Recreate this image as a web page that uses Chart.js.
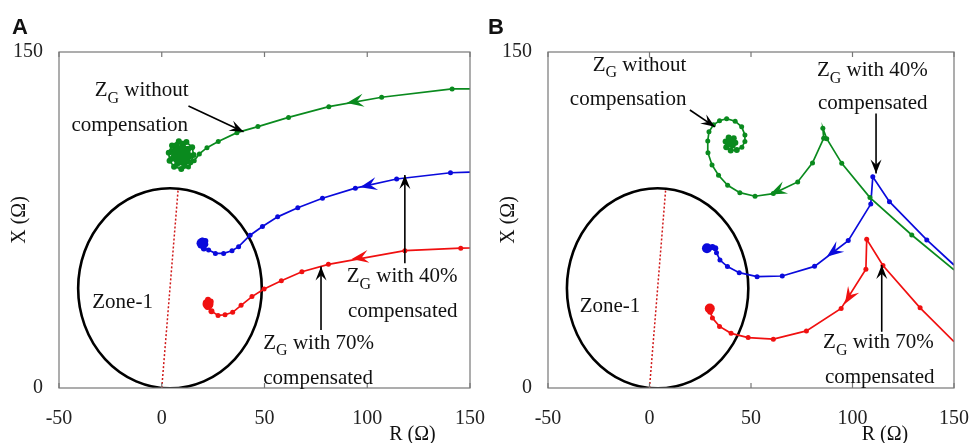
<!DOCTYPE html>
<html>
<head>
<meta charset="utf-8">
<script src="https://cdn.jsdelivr.net/npm/chart.js@4.4.1/dist/chart.umd.min.js"></script>
<style>
  body { margin:0; background:#fff; width:971px; height:443px; overflow:hidden; position:relative; }
  canvas { position:absolute; top:0; }
  .tag { position:absolute; top:14px; line-height:1; font:bold 22px "Liberation Sans", Arial, sans-serif; color:#111; }
</style>
</head>
<body>
<canvas id="chartA" width="485" height="443" style="left:0"></canvas>
<canvas id="chartB" width="486" height="443" style="left:485px"></canvas>
<div class="tag" style="left:12px">A</div>
<div class="tag" style="left:488px">B</div>
<script>
// axis ticks
const rTicks = [-50, 0, 50, 100, 150];
const xTicks = [0, 150];

// zone-1 mho reach (far end of the diameter through the origin)
const zoneReach = [8, 89];

// case A: impedance trajectories
const greenA_R = [150, 141.3, 107, 81.3, 61.7, 46.8, 36.6, 27.5, 22, 18.3, 15.8, 13, 9.5, 6, 3.8, 3.4, 5, 8.3, 12, 14.8, 15.5, 14, 11, 7.5, 5.2, 5, 7, 10.3, 13, 13.5, 11.5, 8.5, 6.7, 7.3, 10, 12, 11.6, 9.3, 8.3, 9.6, 10.8, 9.8, 9.5];
const greenA_X = [133.5, 133.5, 129.8, 125.6, 120.8, 116.7, 114, 110, 107.3, 104.5, 101.5, 98.7, 97.8, 98.8, 101.5, 105, 108.3, 110.2, 109.8, 107.5, 104, 100.8, 99.5, 100, 102.5, 105.8, 108.3, 108.8, 106.8, 103.5, 101.2, 101.3, 103.5, 106.3, 107.2, 105.3, 102.8, 102.4, 104.3, 105.6, 104.3, 103.4, 104];
const blueA_R = [150, 140.5, 114.3, 94.2, 78.2, 66.2, 56.4, 49, 43, 37.4, 34.2, 30.1, 26.1, 22.8, 20.5, 19.2, 19.8, 21.2, 21.2, 20, 19.6];
const blueA_X = [96.4, 96.1, 93.3, 89.2, 84.7, 80.5, 76.4, 72.1, 68.2, 63.1, 61.3, 60.1, 60.1, 61.6, 62.3, 64, 65.8, 65.6, 64.2, 64.3, 64.6];
const redA_R = [150, 145.5, 118.3, 81.1, 68.2, 58.2, 49.8, 43.9, 38.6, 34.5, 30.8, 27.4, 24.2, 22.3, 21.6, 22.5, 23.8, 23.5, 22.5];
const redA_X = [62.5, 62.4, 61.3, 55.2, 51.9, 47.9, 44.2, 40.8, 36.9, 33.8, 32.7, 32.4, 34.3, 36.2, 38.2, 39.4, 38.6, 37.2, 37.5];

// case B: impedance trajectories
const greenB_R = [150, 129.2, 108.6, 94.7, 87.3, 85.4, 85.8, 80.3, 73, 61, 52, 44.5, 38.5, 34, 30.8, 28.8, 28.7, 29.3, 31.5, 34.5, 38, 42.2, 45.4, 47, 47, 45.5, 43, 40, 37.8, 37.5, 39, 41.5, 42.3, 41, 39.5, 40];
const greenB_X = [52.7, 68.3, 85, 100.3, 111.3, 116, 111.5, 100.5, 92, 86.8, 85.6, 87.2, 90.5, 95, 99.6, 105, 110.3, 114.4, 117.5, 119.3, 120.2, 119.1, 116.6, 113, 110, 107.5, 106.3, 106, 107.5, 110, 111.8, 111.5, 109.5, 108.3, 109, 109.5];
const blueB_R = [150, 136.6, 118.2, 110, 109, 97.9, 81.3, 65.4, 53, 44.2, 38.4, 34.7, 33, 32.4, 31, 29.5, 28.3];
const blueB_X = [54.9, 66.1, 83.2, 94.3, 82.1, 65.8, 54.3, 50, 49.7, 51.5, 54.2, 57.1, 60.4, 62.4, 63, 62.6, 62.4];
const redB_R = [150, 133.3, 115, 107, 106.6, 94.4, 77.3, 61, 48.6, 40.2, 34.5, 31, 29.9, 29.7];
const redB_X = [20.7, 35.8, 54.7, 66.4, 53, 35.5, 25.5, 21.8, 22.5, 24.4, 27.5, 31.2, 34, 35.5];

const GREEN = '#0a8a1e', BLUE = '#0a0adc', RED = '#f01010';
const SERIF = '"Liberation Serif", "Times New Roman", serif';

function pts(rs, xs) {
  return rs.map((r, i) => ({ x: r, y: xs[i] }));
}

function series(rs, xs, color, endRadius, denseFrom) {
  const n = rs.length;
  return {
    data: pts(rs, xs),
    showLine: true,
    borderColor: color,
    backgroundColor: color,
    borderWidth: 1.7,
    pointBorderWidth: 0,
    pointRadius: ctx => ctx.dataIndex === 0 ? 0 : ctx.dataIndex === n - 1 ? endRadius
      : (denseFrom && ctx.dataIndex >= denseFrom ? 3 : 2.5),
    pointHoverRadius: 0
  };
}

// swept-back arrowhead, tip at (tx,ty), pointing along (dx,dy)
function head(ctx, tx, ty, dx, dy, len, half, color) {
  const d = Math.hypot(dx, dy); const ux = dx / d, uy = dy / d;
  const nx = -uy, ny = ux;
  ctx.fillStyle = color;
  ctx.beginPath();
  ctx.moveTo(tx, ty);
  ctx.lineTo(tx - ux * len + nx * half, ty - uy * len + ny * half);
  ctx.lineTo(tx - ux * len * 0.62, ty - uy * len * 0.62);
  ctx.lineTo(tx - ux * len - nx * half, ty - uy * len - ny * half);
  ctx.closePath();
  ctx.fill();
}

function zgText(ctx, rest, x, y, align) {
  ctx.font = '21px ' + SERIF;
  const wZ = ctx.measureText('Z').width;
  const wR = ctx.measureText(rest).width;
  ctx.font = '16px ' + SERIF;
  const wG = ctx.measureText('G').width;
  const total = wZ + wG + wR;
  let x0 = align === 'right' ? x - total : align === 'center' ? x - total / 2 : x;
  ctx.textAlign = 'left';
  ctx.textBaseline = 'middle';
  ctx.font = '21px ' + SERIF;
  ctx.fillText('Z', x0, y);
  ctx.font = '16px ' + SERIF;
  ctx.fillText('G', x0 + wZ, y + 8);
  ctx.font = '21px ' + SERIF;
  ctx.fillText(rest, x0 + wZ + wG, y);
}

const decor = {
  id: 'decor',
  beforeDatasetsDraw(chart) {
    const { ctx, chartArea: a, scales: { x, y } } = chart;
    ctx.save();
    ctx.beginPath();
    ctx.rect(a.left, a.top, a.right - a.left, a.bottom - a.top);
    ctx.clip();
    // zone-1 circle
    const cx = zoneReach[0] / 2, cy = zoneReach[1] / 2;
    const rad = Math.hypot(zoneReach[0], zoneReach[1]) / 2;
    const px = x.getPixelForValue(cx), py = y.getPixelForValue(cy);
    ctx.strokeStyle = '#000';
    ctx.lineWidth = 2.6;
    ctx.beginPath();
    ctx.ellipse(px, py, x.getPixelForValue(cx + rad) - px, py - y.getPixelForValue(cy + rad), 0, 0, Math.PI * 2);
    ctx.stroke();
    // line-angle diameter
    ctx.strokeStyle = '#d01818';
    ctx.lineWidth = 1.5;
    ctx.setLineDash([2, 2]);
    ctx.beginPath();
    ctx.moveTo(x.getPixelForValue(0), y.getPixelForValue(0));
    ctx.lineTo(x.getPixelForValue(zoneReach[0]), y.getPixelForValue(zoneReach[1]));
    ctx.stroke();
    ctx.restore();
  },
  afterDatasetsDraw(chart, args, opts) {
    const { ctx, chartArea: a, scales: { x, y } } = chart;
    ctx.save();
    // box with inward ticks
    ctx.strokeStyle = '#777';
    ctx.lineWidth = 1.2;
    ctx.strokeRect(a.left, a.top, a.right - a.left, a.bottom - a.top);
    rTicks.forEach(v => {
      const p = x.getPixelForValue(v);
      ctx.beginPath();
      ctx.moveTo(p, a.bottom); ctx.lineTo(p, a.bottom - 5);
      ctx.moveTo(p, a.top); ctx.lineTo(p, a.top + 5);
      ctx.stroke();
    });
    // direction arrows on the trajectories
    opts.flow.forEach(f => {
      const tx = x.getPixelForValue(f.tip[0]), ty = y.getPixelForValue(f.tip[1]);
      const fx = x.getPixelForValue(f.from[0]), fy = y.getPixelForValue(f.from[1]);
      head(ctx, tx, ty, tx - fx, ty - fy, 17, 6.5, f.color);
    });
    // annotation arrows
    opts.notes.forEach(nt => {
      const x0 = x.getPixelForValue(nt.from[0]), y0 = y.getPixelForValue(nt.from[1]);
      const x1 = x.getPixelForValue(nt.to[0]), y1 = y.getPixelForValue(nt.to[1]);
      ctx.strokeStyle = '#000';
      ctx.lineWidth = 1.6;
      ctx.beginPath();
      ctx.moveTo(x0, y0); ctx.lineTo(x1, y1);
      ctx.stroke();
      head(ctx, x1, y1, x1 - x0, y1 - y0, 14, 5.5, '#000');
    });
    // labels
    ctx.fillStyle = '#111';
    opts.labels.forEach(l => {
      const lx = x.getPixelForValue(l.at[0]), ly = y.getPixelForValue(l.at[1]);
      if (l.zg) {
        zgText(ctx, l.text, lx, ly, l.align);
      } else {
        ctx.font = '21px ' + SERIF;
        ctx.textAlign = l.align;
        ctx.textBaseline = 'middle';
        ctx.fillText(l.text, lx, ly);
      }
    });
    // axis titles
    ctx.font = '20px ' + SERIF;
    ctx.textAlign = 'center';
    ctx.textBaseline = 'middle';
    ctx.fillText('R (\u03A9)', x.getPixelForValue(opts.rTitle), a.bottom + 47);
    ctx.save();
    ctx.translate(a.left - 39, y.getPixelForValue(75));
    ctx.rotate(-Math.PI / 2);
    ctx.fillText('X (\u03A9)', 0, 0);
    ctx.restore();
    ctx.restore();
  }
};

function makeChart(id, datasets, extra, yWidth, padRight) {
  return new Chart(document.getElementById(id), {
    type: 'scatter',
    data: { datasets },
    options: {
      responsive: false,
      animation: false,
      devicePixelRatio: 1,
      layout: { padding: { top: 52, right: padRight, left: 0, bottom: 0 } },
      plugins: { legend: { display: false }, tooltip: { enabled: false }, decor: extra },
      scales: {
        x: {
          type: 'linear', min: -50, max: 150,
          afterBuildTicks: s => { s.ticks = rTicks.map(v => ({ value: v })); },
          afterFit: s => { s.height = 55; s.paddingLeft = 0; s.paddingRight = 0; },
          grid: { display: false }, border: { display: false },
          ticks: { color: '#222', padding: 11, maxRotation: 0, autoSkip: false, font: { family: SERIF, size: 20 } }
        },
        y: {
          type: 'linear', min: 0, max: 150,
          afterBuildTicks: s => { s.ticks = xTicks.map(v => ({ value: v })); },
          afterFit: s => { s.width = yWidth; s.paddingTop = 0; s.paddingBottom = 0; },
          grid: { display: false }, border: { display: false },
          ticks: { color: '#222', padding: 8, font: { family: SERIF, size: 20 } }
        }
      }
    },
    plugins: [decor]
  });
}

makeChart('chartA', [
  series(greenA_R, greenA_X, GREEN, 10, 12),
  series(blueA_R, blueA_X, BLUE, 5.5, 14),
  series(redA_R, redA_X, RED, 5.5, 12)
], {
  flow: [
    { tip: [90, 127.2], from: [107, 129.8], color: GREEN },
    { tip: [96.5, 89.6], from: [114.3, 93.3], color: BLUE },
    { tip: [92.4, 57.6], from: [118.3, 61.3], color: RED }
  ],
  notes: [
    { from: [13, 125.9], to: [39.8, 114.4] },
    { from: [118.3, 55.7], to: [118.3, 95.1] },
    { from: [77.5, 25.9], to: [77.5, 54.2] }
  ],
  labels: [
    { zg: true, text: ' without', at: [13, 132.7], align: 'right' },
    { text: 'compensation', at: [12.8, 117.4], align: 'right' },
    { zg: true, text: ' with 40%', at: [90, 49.7], align: 'left' },
    { text: 'compensated', at: [90.6, 34.1], align: 'left' },
    { zg: true, text: ' with 70%', at: [49.4, 20], align: 'left' },
    { text: 'compensated', at: [49.4, 4.3], align: 'left' },
    { text: 'Zone-1', at: [-33.8, 38.1], align: 'left' }
  ],
  rTitle: 122
}, 59, 15);

makeChart('chartB', [
  series(greenB_R, greenB_X, GREEN, 5, 26),
  series(blueB_R, blueB_X, BLUE, 5, 13),
  series(redB_R, redB_X, RED, 5, 12)
], {
  flow: [
    { tip: [59.3, 86.4], from: [73, 92], color: GREEN },
    { tip: [87.3, 58.6], from: [97.9, 65.8], color: BLUE },
    { tip: [96.2, 37.5], from: [106.6, 53], color: RED }
  ],
  notes: [
    { from: [19.9, 124.1], to: [32.2, 116.6] },
    { from: [111.6, 122.6], to: [111.6, 95.8] },
    { from: [114.4, 25.1], to: [114.4, 54.9] }
  ],
  labels: [
    { zg: true, text: ' without', at: [18.2, 144.2], align: 'right' },
    { text: 'compensation', at: [18.2, 129], align: 'right' },
    { zg: true, text: ' with 40%', at: [82.5, 141.6], align: 'left' },
    { text: 'compensated', at: [83, 126.8], align: 'left' },
    { zg: true, text: ' with 70%', at: [85.5, 20.1], align: 'left' },
    { text: 'compensated', at: [86.4, 4.6], align: 'left' },
    { text: 'Zone-1', at: [-34.4, 36.3], align: 'left' }
  ],
  rTitle: 116
}, 63, 17);
</script>
</body>
</html>
